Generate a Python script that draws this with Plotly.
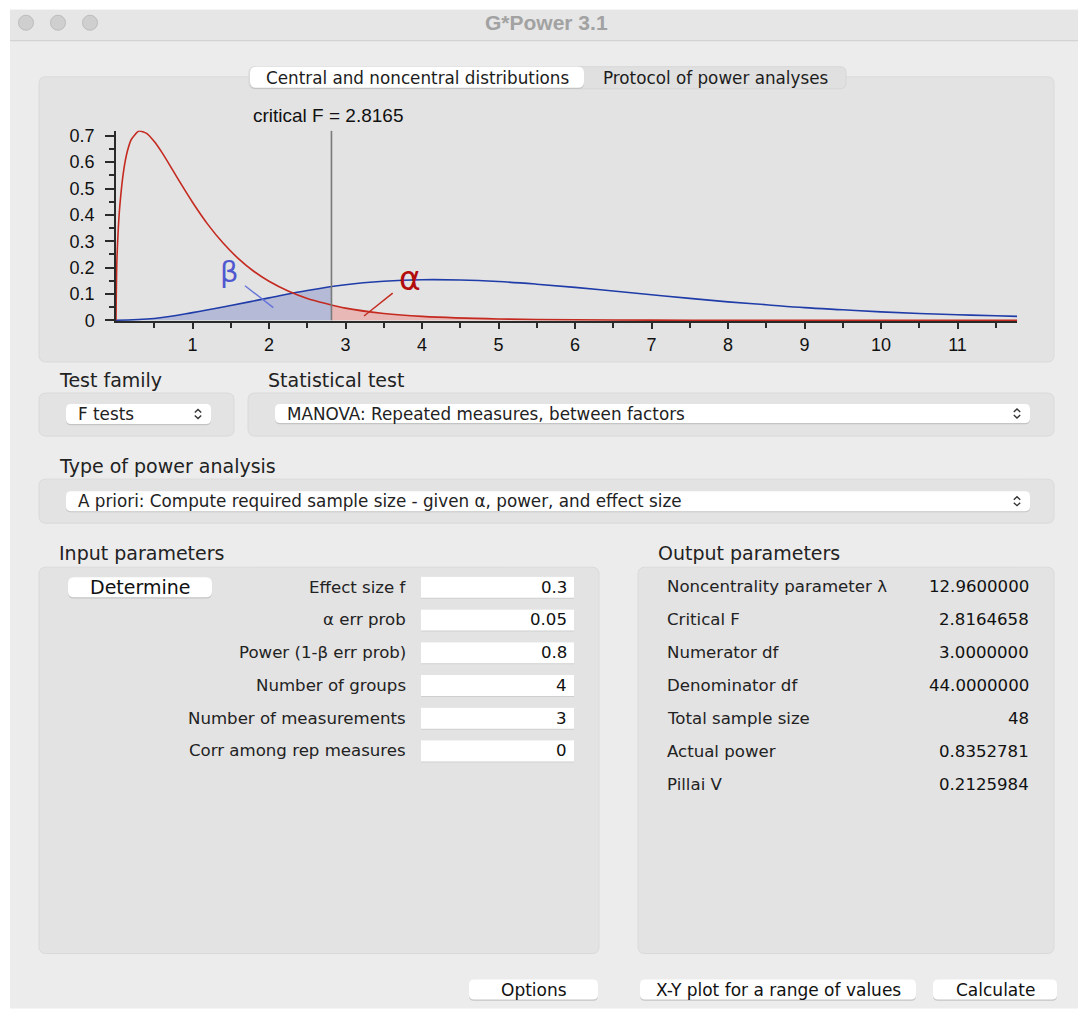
import plotly.graph_objects as go

# ---- values ----
CRIT_F = 2.8165

# central F(3, 44) density (red)
F_X = [0, 0.01, 0.03, 0.05, 0.1, 0.15, 0.2, 0.3, 0.4, 0.5, 0.6, 0.7, 0.8, 1.0, 1.2, 1.4,
       1.6, 1.8, 2.0, 2.25, 2.5, 3.0, 3.5, 4.0, 5.0, 6.0, 7.0, 8.0, 11.78]
F_CENTRAL = [0, 0.211, 0.348, 0.435, 0.568, 0.643, 0.686, 0.718, 0.709, 0.678, 0.637, 0.590,
             0.541, 0.448, 0.364, 0.293, 0.234, 0.186, 0.148, 0.111, 0.083, 0.046,
             0.026, 0.015, 0.005, 0.002, 0.0005, 0.0002, 0]
F_AT_CRIT = 0.057

# noncentral F density (blue)
NC_X = [0, 0.5, 1.0, 1.5, 2.0, 2.5, 3.0, 3.5, 4.0, 4.5, 5.0, 5.5, 6.0, 6.5, 7.0, 7.5, 8.0,
        8.5, 9.0, 9.5, 10.0, 10.5, 11.0, 11.5, 11.78]
NC_Y = [0, 0.007, 0.029, 0.056, 0.085, 0.113, 0.135, 0.148, 0.154, 0.153, 0.147, 0.137,
        0.125, 0.111, 0.097, 0.083, 0.070, 0.059, 0.048, 0.040, 0.032, 0.026, 0.021, 0.017,
        0.015]
NC_AT_CRIT = 0.127

X_TICKS = list(range(1, 12))
X_MINOR = [0.5 + i for i in range(12)]
Y_TICKS = [0, 0.1, 0.2, 0.3, 0.4, 0.5, 0.6, 0.7]
Y_MINOR = [0.05, 0.15, 0.25, 0.35, 0.45, 0.55, 0.65]

TABS = ["Central and noncentral distributions", "Protocol of power analyses"]
TEST_FAMILY = "F tests"
STAT_TEST = "MANOVA: Repeated measures, between factors"
ANALYSIS = "A priori: Compute required sample size - given α, power, and effect size"

IN_LABELS = ["Effect size f", "α err prob", "Power (1-β err prob)", "Number of groups",
             "Number of measurements", "Corr among rep measures"]
IN_VALUES = ["0.3", "0.05", "0.8", "4", "3", "0"]

OUT_LABELS = ["Noncentrality parameter λ", "Critical F", "Numerator df", "Denominator df",
              "Total sample size", "Actual power", "Pillai V"]
OUT_VALUES = ["12.9600000", "2.8164658", "3.0000000", "44.0000000", "48", "0.8352781",
              "0.2125984"]

BUTTONS = ["Options", "X-Y plot for a range of values", "Calculate"]

# ---- page geometry helpers (screenshot pixels -> paper) ----
W = 1088
H = 1031            # page height as captured; the photo is squeezed to 1017
V_OFF, V_SCALE = 4.3, 0.9865
UI = "DejaVu Sans"
CHART_FONT = "Liberation Sans"


def X(px):
    return px / W


def raw_y(py):
    return (py - V_OFF) / V_SCALE


def Y(py):
    return 1 - raw_y(py) / H


shapes = []
ann = []


def rrect(x0, y0, x1, y1, r, fill, line="rgba(0,0,0,0)", lw=0):
    p = (f"M{X(x0 + r)},{Y(y0)} L{X(x1 - r)},{Y(y0)} Q{X(x1)},{Y(y0)} {X(x1)},{Y(y0 + r)} "
         f"L{X(x1)},{Y(y1 - r)} Q{X(x1)},{Y(y1)} {X(x1 - r)},{Y(y1)} "
         f"L{X(x0 + r)},{Y(y1)} Q{X(x0)},{Y(y1)} {X(x0)},{Y(y1 - r)} "
         f"L{X(x0)},{Y(y0 + r)} Q{X(x0)},{Y(y0)} {X(x0 + r)},{Y(y0)} Z")
    shapes.append(dict(type="path", path=p, xref="paper", yref="paper", fillcolor=fill,
                       line=dict(color=line, width=lw), layer="below"))


def control(x0, y0, x1, y1, r=5):
    # white control with a soft shadow
    rrect(x0, y0 + 1, x1, y1 + 1.2, r, "#c4c4c4")
    rrect(x0, y0, x1, y1, r, "white")


def txt(x, y, s, size=16, anchor="left", color="#222", family=UI):
    ann.append(dict(x=X(x), y=Y(y), xref="paper", yref="paper", text=s, showarrow=False,
                    xanchor=anchor, yanchor="middle",
                    font=dict(family=family, size=size, color=color)))


def chevron(cx, cy):
    p = (f"M{X(cx - 3.2)},{Y(cy - 1.5)} L{X(cx)},{Y(cy - 4.5)} L{X(cx + 3.2)},{Y(cy - 1.5)} "
         f"M{X(cx - 3.2)},{Y(cy + 1.5)} L{X(cx)},{Y(cy + 4.5)} L{X(cx + 3.2)},{Y(cy + 1.5)}")
    shapes.append(dict(type="path", path=p, xref="paper", yref="paper",
                       line=dict(color="#333", width=1.4), layer="below"))


def box(x0, y0, x1, y1, fill):
    shapes.append(dict(type="rect", xref="paper", yref="paper", x0=X(x0), x1=X(x1),
                       y0=Y(y1), y1=Y(y0), fillcolor=fill, line=dict(width=0),
                       layer="below"))


# ---- window chrome ----
box(10, 10, 1078, 1008, "#ececec")
box(10, 10, 1078, 41, "#e6e6e6")
shapes.append(dict(type="line", xref="paper", yref="paper", x0=X(10), x1=X(1078), y0=Y(41),
                   y1=Y(41), line=dict(color="#cdcdcd", width=1), layer="below"))
for cx in [26, 58, 90]:
    shapes.append(dict(type="circle", xref="paper", yref="paper", x0=X(cx - 7.5),
                       x1=X(cx + 7.5), y0=Y(23 + 7.5), y1=Y(23 - 7.5), fillcolor="#cfcfcf",
                       line=dict(color="#bcbcbc", width=1), layer="below"))
txt(546, 23, "<b>G*Power 3.1</b>", size=21, anchor="center", color="#a2a2a2",
    family=CHART_FONT)

# ---- panels ----
PANEL = "#e3e3e3"
PANEL_LINE = "#dadada"
rrect(39, 77, 1054, 362, 7, PANEL, PANEL_LINE, 1)
rrect(39, 393, 234, 436, 7, PANEL, PANEL_LINE, 1)
rrect(248, 393, 1054, 436, 7, PANEL, PANEL_LINE, 1)
rrect(39, 479, 1054, 523, 7, PANEL, PANEL_LINE, 1)
rrect(39, 567, 599, 953, 7, PANEL, PANEL_LINE, 1)
rrect(638, 567, 1054, 953, 7, PANEL, PANEL_LINE, 1)

# tabs
rrect(249, 67, 846, 89, 6, "#e0e0e0", "#d6d6d6", 1)
control(250, 67, 584, 88, 6)
txt(417, 78, TABS[0], size=16.8, anchor="center", color="#1c1c1c")
txt(715, 78, TABS[1], size=16.8, anchor="center", color="#1c1c1c")

# headings
txt(57, 380, "Test family", size=19)
txt(266, 380, "Statistical test", size=19)
txt(57, 466, "Type of power analysis", size=19)
txt(57, 553, "Input parameters", size=19)
txt(656, 553, "Output parameters", size=19)

# popups
control(66, 404, 211, 424)
txt(76, 414, TEST_FAMILY, size=16.8)
chevron(198, 414)
control(275, 404, 1030, 423)
txt(285, 413.5, STAT_TEST, size=16.8)
chevron(1017, 413.5)
control(66, 491, 1030, 511)
txt(76, 501, ANALYSIS, size=16.8)
chevron(1017, 501)

# input parameters
control(68, 577, 212, 597, 6)
txt(140, 587, "Determine", size=19, anchor="center", color="#111")
for i, (lab, val) in enumerate(zip(IN_LABELS, IN_VALUES)):
    ry = 587 + i * 32.7
    box(421, ry - 10.5, 574, ry + 11.5, "#cfcfcf")
    box(421, ry - 10.5, 574, ry + 10.5, "white")
    txt(408, ry, lab, size=16.6, anchor="right")
    txt(569, ry, val, size=16.6, anchor="right", color="#111")

# output parameters
for i, (lab, val) in enumerate(zip(OUT_LABELS, OUT_VALUES)):
    ry = 586.5 + i * 33
    txt(665, ry, lab, size=16.6)
    txt(1031, ry, val, size=16.6, anchor="right", color="#111")

# bottom buttons
for lab, (bx0, bx1) in zip(BUTTONS, [(469, 598), (640, 916), (933, 1057)]):
    control(bx0, 979, bx1, 999, 5)
    txt((bx0 + bx1) / 2, 989, lab, size=17, anchor="center", color="#111")

# ---- chart ----
X_MAX = 11.78
PX_PER_X = 76.5
Y0_PX = 320.3
PX_PER_Y = 263.3
Y_MIN, Y_MAX = -0.004, 0.72

RED = "#c42a1f"
BLUE = "#1f3ca8"

# shaded areas: beta left of the critical value (under blue), alpha right of it (under red)
beta_x = [x for x in NC_X if x < CRIT_F] + [CRIT_F]
beta_y = [y for x, y in zip(NC_X, NC_Y) if x < CRIT_F] + [NC_AT_CRIT]
alpha_x = [CRIT_F] + [x for x in F_X if x > CRIT_F]
alpha_y = [F_AT_CRIT] + [y for x, y in zip(F_X, F_CENTRAL) if x > CRIT_F]

fig = go.Figure()
fig.add_trace(go.Scatter(x=beta_x, y=beta_y, mode="lines", fill="tozeroy",
                         fillcolor="#b5bad7", line=dict(width=0, shape="spline"),
                         hoverinfo="skip"))
fig.add_trace(go.Scatter(x=alpha_x, y=alpha_y, mode="lines", fill="tozeroy",
                         fillcolor="#e8b8b7", line=dict(width=0, shape="spline"),
                         hoverinfo="skip"))
fig.add_trace(go.Scatter(x=NC_X, y=NC_Y, mode="lines",
                         line=dict(color=BLUE, width=1.6, shape="spline", smoothing=1)))
fig.add_trace(go.Scatter(x=F_X, y=F_CENTRAL, mode="lines",
                         line=dict(color=RED, width=1.6, shape="spline", smoothing=0.6)))

# critical value line and the beta / alpha markers
shapes.append(dict(type="line", xref="x", yref="y", x0=CRIT_F, x1=CRIT_F, y0=0, y1=0.719,
                   line=dict(color="#7a7a7a", width=1.6)))
shapes.append(dict(type="line", xref="x", yref="y", x0=1.686, y0=0.131, x1=2.056, y1=0.048,
                   line=dict(color="#6674d8", width=1.4)))
shapes.append(dict(type="line", xref="x", yref="y", x0=3.617, y0=0.103, x1=3.242, y1=0.016,
                   line=dict(color=RED, width=1.4)))
ann.append(dict(x=1.49, y=0.185, xref="x", yref="y", text="β", showarrow=False,
                font=dict(family=UI, size=29, color="#5058d0")))
ann.append(dict(x=3.84, y=0.158, xref="x", yref="y", text="α", showarrow=False,
                font=dict(family=UI, size=33, color="#b30c0c")))
txt(328.5, 116, f"critical F = {CRIT_F:.4f}", size=19, anchor="center", color="#111",
    family=CHART_FONT)

axis_col = "#2a2a2a"
fig.update_layout(
    width=W, height=H, margin=dict(l=0, r=0, t=0, b=0),
    paper_bgcolor="white", plot_bgcolor="rgba(0,0,0,0)", showlegend=False,
    shapes=shapes, annotations=ann,
    xaxis=dict(domain=[X(116), X(116 + X_MAX * PX_PER_X)], range=[0, X_MAX],
               showline=True, linecolor=axis_col, linewidth=1.5, layer="below traces",
               ticks="outside", ticklen=6, tickwidth=1.5, tickcolor=axis_col,
               tickvals=X_TICKS, ticktext=[str(v) for v in X_TICKS],
               tickfont=dict(family=CHART_FONT, size=18, color="#111"),
               showgrid=False, zeroline=False, fixedrange=True,
               minor=dict(tickvals=X_MINOR, ticks="outside", ticklen=5, tickwidth=1.5,
                          tickcolor=axis_col, showgrid=False)),
    yaxis=dict(domain=[Y(Y0_PX - Y_MIN * PX_PER_Y), Y(Y0_PX - Y_MAX * PX_PER_Y)],
               range=[Y_MIN, Y_MAX], showline=True, linecolor=axis_col, linewidth=1.5,
               ticks="outside", ticklen=9, tickwidth=1.5, tickcolor=axis_col,
               tickvals=Y_TICKS, ticktext=["0" if v == 0 else str(v) for v in Y_TICKS],
               tickfont=dict(family=CHART_FONT, size=18, color="#111"),
               ticklabelstandoff=7, showgrid=False, zeroline=False, fixedrange=True,
               minor=dict(tickvals=Y_MINOR, ticks="outside", ticklen=5, tickwidth=1.5,
                          tickcolor=axis_col, showgrid=False)),
)

# pin the figure to the top-left corner of the page, with nothing around it
fig.write_html("out.html", config={"displayModeBar": False},
               post_script="var gd=document.getElementById('{plot_id}');"
                           "gd.style.position='fixed';gd.style.top='0';gd.style.left='0';"
                           "document.body.style.margin='0';"
                           "document.body.style.overflow='hidden';"
                           "document.documentElement.style.overflow='hidden';")
